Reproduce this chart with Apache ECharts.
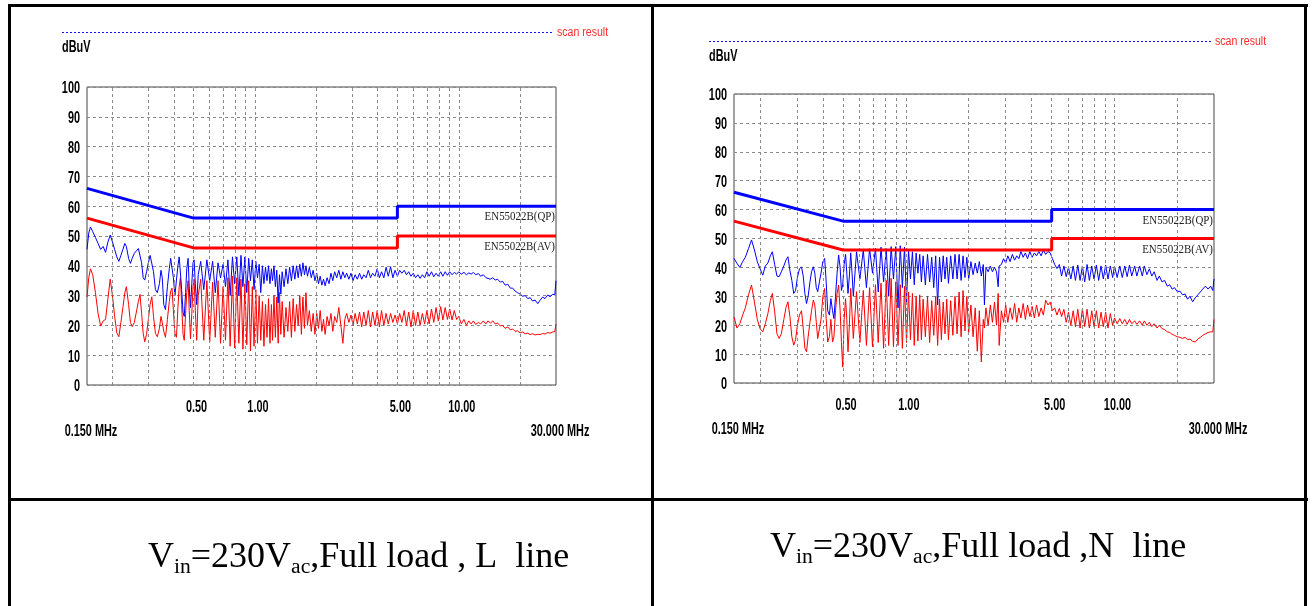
<!DOCTYPE html>
<html><head><meta charset="utf-8">
<script src="https://cdn.jsdelivr.net/npm/echarts@6.0.0/dist/echarts.min.js"></script>
<style>
html,body{margin:0;padding:0;background:#fff;width:1312px;height:606px;overflow:hidden}
#chart{position:absolute;left:0;top:0;width:1312px;height:606px}
.b{position:absolute;background:#000}
.cap{position:absolute;font-family:'Liberation Serif','Times New Roman',serif;font-size:36px;line-height:40px;color:#000;white-space:nowrap}
.cap sub{font-size:60%;vertical-align:-0.28em;line-height:0}
</style></head><body>
<div id="chart"></div>
<div class="b" style="left:8px;top:4px;width:1300px;height:3px"></div>
<div class="b" style="left:8px;top:4px;width:3px;height:602px"></div>
<div class="b" style="left:651px;top:4px;width:3px;height:602px"></div>
<div class="b" style="left:1304px;top:4px;width:3px;height:602px"></div>
<div class="b" style="left:8px;top:498px;width:1300px;height:3px"></div>
<div class="cap" style="left:148px;top:535px">V<sub>in</sub>=230V<sub>ac</sub>,Full load , L&nbsp; line</div>
<div class="cap" style="left:770px;top:525px">V<sub>in</sub>=230V<sub>ac</sub>,Full load ,N&nbsp; line</div>
<script>
// ---------------- data (frequency in MHz, level in dBuV) ----------------
const freqL = [
0.150,0.153,0.156,0.160,0.165,0.170,0.175,0.180,0.185,0.190,
0.195,0.200,0.205,0.210,0.215,0.220,0.225,0.230,0.234,0.240,
0.245,0.250,0.256,0.262,0.268,0.273,0.278,0.283,0.288,0.294,
0.300,0.306,0.312,0.318,0.325,0.332,0.340,0.346,0.351,0.357,
0.364,0.372,0.380,0.386,0.392,0.398,0.405,0.412,0.419,0.425,
0.431,0.437,0.444,0.450,0.457,0.463,0.470,0.476,0.483,0.490,
0.497,0.503,0.510,0.518,
0.527,0.542,0.561,0.581,0.600,0.620,0.639,0.659,0.678,0.698,
0.717,0.737,0.756,0.776,0.795,0.815,0.834,0.854,0.873,0.893,
0.912,0.932,0.951,0.971,0.990,1.010,1.029,1.049,1.068,1.088,
1.107,1.127,1.146,1.166,1.185,1.205,
1.22,1.24,1.26,1.28,1.30,1.32,1.34,1.36,1.39,1.42,
1.45,1.48,1.51,1.54,1.57,1.60,1.63,1.66,1.69,1.72,
1.75,1.78,1.81,1.85,1.89,1.93,1.97,2.01,2.05,2.09,
2.13,2.17,2.21,2.26,2.31,2.36,2.41,2.46,2.52,2.58,
2.64,2.70,2.76,2.82,2.89,2.96,3.03,3.10,3.18,3.26,
3.34,3.42,3.51,3.60,3.69,3.78,3.88,3.98,4.08,4.18,
4.29,4.40,4.51,4.63,4.75,4.87,5.00,5.13,5.26,5.40,
5.54,5.68,5.83,5.98,6.14,6.30,6.46,6.63,6.80,6.98,
7.16,7.35,7.54,7.74,7.94,8.15,8.36,8.58,8.80,9.03,
9.27,9.51,9.76,10.0,10.3,10.6,10.9,11.2,11.5,11.8,
12.1,12.5,12.8,13.2,13.6,13.9,14.3,14.7,15.1,15.5,
16.0,16.4,16.9,17.4,17.9,18.4,18.9,19.4,20.0,20.6,
21.2,21.8,22.4,23.0,23.7,24.4,25.1,25.8,26.5,27.3,
28.1,28.9,29.6,30.0];
const qpL = [
45.5,51,53,51.5,49.5,47.5,45.5,46.5,44.5,48,
50.3,48,45.5,43,41.5,43.5,45.5,47.5,46.5,42.5,
40.8,42.5,44.2,45,45.8,45.5,41,36,35.2,38,
41,43.5,43.7,38,32,31,34,38.5,36,27,
25.3,33,39,42.5,43,36,30,35.2,40,43,
43.6,32,24.4,23,31,39,42.5,33,26,34,
41,42,34,27,
37,41.5,32,42,35,41.5,31,41,36,40.5,
33,42,30,43,34,43,30,43.5,33,43,
31,42.5,35,42,32,41.5,36,40.5,31,40,
34,39.5,35,40,34,39,
35,40,33,38.5,27.5,37,30.5,38,33,39,
34,39.5,35,40,35.5,40,36,40.5,36.5,41,
37,40,36.5,39.5,36,38.5,35,37.5,34,36.5,
33.5,35.5,33.3,36,34,37.5,35,38,36,38.5,
35.5,38,36,37.5,35.5,37.5,35,37,35.5,37.5,
35.5,37,36,38.5,36,37.5,36.5,39,36,38,
36,39.5,36.5,39.7,36,38.5,36.5,38.5,37.5,38.5,
37,38,36.5,37.5,36,37,35.8,37,36,38,
36.5,38,36.3,37.5,36.5,38,36.5,38,36.8,38,
37,37.8,37.2,38,37.2,37.8,37,37.6,37.2,37.8,
37,37.4,36.5,37,36,36.5,35.5,36,35.2,35.5,
34.5,34.8,33.5,33.8,32.5,32.5,31.5,31,30.5,29.8,
30,29,29.3,28.2,28.5,27.3,28.5,29.5,29,30.2,
29.6,30.5,30.2,35];
const avL = [
29.5,36,39,37,31,24,19.8,21.5,22,29,
35.5,30,23,17.5,16.2,21,26,31,33,27,
21,19.6,21,24.5,28,30.4,24,17.3,14.5,17,
22,27,29.6,23,17.3,16.2,19,23,21,18,
16,22,28,31.5,32.5,25,17.3,16,26,33,
36,27,17,15,24,31,35,25,15.5,24,
33,35.5,25,15,
30,35.5,15,35,14.5,34.5,16,35,14,33,
15,36,13,36.5,12.5,36,14,35.5,12,34,
13.5,35,11.5,33,13,32,14,30,15,28,
13,27,16,29,14,27,
15,30,16,29.5,14,31,17,28,16,26,
18,28,16,29,18,27,20,30,17,29.5,
19,31,20,25,18,24,17,24,19,25,
18,22,17,23,20,24,18,23,21,26,
20,14,22,24,21,23.5,20,24,20.5,24.5,
19.5,24.5,20,25,19.5,24.5,20,25,19.5,25,
20,24,20.5,24,21,23.5,20.5,24,21,25,
20,24.5,19.5,25,20,24.5,20,24,20.5,25,
20.5,25.5,21,26,21.5,26.3,21.8,26,22,25.5,
21.8,25,22,23,20.5,22,20,21.5,20.5,21.5,
20.3,21,20.5,21.5,20.5,21.5,20.8,21.5,20.5,20.8,
19.8,20,19,19.5,18.5,18.8,18,18.2,17.5,17.8,
17.2,17.4,16.9,17.2,16.8,17,16.9,17.3,17.1,17.6,
17.4,17.8,17.9,20.5];

const freqN = [
0.150,0.155,0.160,0.165,0.170,0.176,0.182,0.188,0.194,0.200,
0.206,0.212,0.218,0.224,0.229,0.235,0.241,0.247,0.253,0.260,
0.266,0.272,0.278,0.284,0.290,0.296,0.302,0.309,0.316,0.322,
0.328,0.334,0.340,0.347,0.353,0.360,0.366,0.372,0.378,0.385,
0.392,0.400,0.408,0.415,0.422,0.430,0.437,0.445,0.452,0.460,
0.468,0.476,0.484,0.491,0.498,0.506,0.514,0.521,0.528,0.536,
0.544,0.552,0.560,
0.580,0.602,0.625,0.647,0.670,0.692,0.715,0.737,0.760,0.782,
0.805,0.827,0.850,0.872,0.895,0.917,0.940,0.962,0.985,1.007,
1.030,1.052,1.075,1.097,1.120,1.142,1.165,1.187,1.210,
1.24,1.27,1.30,1.33,1.36,1.39,1.42,1.45,1.48,1.51,
1.54,1.57,1.60,1.64,1.68,1.72,1.76,1.80,1.84,1.88,
1.92,1.96,2.00,2.05,2.10,2.15,2.20,2.25,2.30,2.35,
2.38,2.42,2.48,2.54,2.60,2.66,2.72,2.77,2.80,2.87,
2.94,3.01,3.08,3.16,3.24,3.32,3.40,3.48,3.56,3.65,
3.74,3.83,3.93,4.03,4.13,4.23,4.34,4.45,4.56,4.68,
4.80,4.92,5.04,5.17,5.30,5.44,5.58,5.72,5.87,6.02,
6.18,6.34,6.50,6.67,6.84,7.02,7.20,7.39,7.58,7.78,
7.98,8.19,8.40,8.62,8.84,9.07,9.31,9.55,9.80,10.0,
10.3,10.6,10.9,11.2,11.5,11.8,12.1,12.5,12.8,13.2,
13.6,13.9,14.3,14.7,15.1,15.5,16.0,16.4,16.9,17.4,
17.9,18.4,18.9,19.4,20.0,20.6,21.2,21.8,22.4,23.0,
23.7,24.4,25.1,25.8,26.5,27.3,28.1,28.9,29.6,30.0];
const qpN = [
43.1,41.4,40,42,43.5,46.5,49.5,46,42,39.5,
37.3,40.5,41.5,44,45.4,41,37,36.8,38.5,40.5,
42.5,43.7,39,35.5,31,32,36.5,39.5,40.2,37,
31,27.5,30,35,38.5,40.2,38,33,31.6,35,
38,42,43.1,35,25,23.5,29.2,25,22.3,30,
38,44.3,40,32,34,41,44.5,38,31,37,
45,38,30,
45.4,36,46,33,46.5,38,46.6,31.5,47,35,
46.5,30,47.2,36,47.2,26,47.5,33,47,28,
46,36,45.4,34,45,38,44.5,35,44,
34,44.5,35,43.5,33,44,27,43.5,35,44,
36,43.5,34.5,44,36,44.5,36,44.5,35.5,44,
36.5,43.5,36,42,37.5,41.5,38,42,37,41,
27,40,38.5,40.5,38.5,40,38.5,33.3,40.5,41,
43,41.5,44,42,44.5,42.5,44,43,45.5,43.5,
45,43,45.5,43.5,45,44,45.5,44,46,44.5,
45.5,45,43,41,39.6,41,37,40.5,36.8,40,
36,40.5,35.5,40.8,35.5,40.5,35,41,35.5,40.5,
36,40.8,35.5,40.5,36,40.8,36,40.5,36.5,40.5,
36.5,40.5,36.5,40.5,36.8,40.8,37,40.5,37,40.5,
37,40.5,37.5,39.5,37,38.5,35.5,37,35,35.5,
33.5,34,32.5,33,31.6,31.8,30.5,30.8,29,30,
28.1,29.5,30.5,31.5,32.5,33.5,32.5,33.5,32,36];
const avN = [
22.9,19,20.5,23.5,26,30.5,33.9,28,22,18.8,
17.7,20.5,24,28.5,31,24.6,17,15.4,17,22,
26,28.1,23,16,13.1,15,20,23.5,25,19,
12,10.8,16,21,25,28.7,27,21,15.4,16,
22,30,32.7,22.3,14.2,16,22,14.2,16,25,
31,33.9,25,14,5.5,22,29.2,22,10.8,20,
32.7,24,15.4,
31.6,14,32,13,33,12.5,34,14,34.5,12,
35.5,13,36.2,12.5,35,13,34,12,33.5,14,
31.5,15,31,13,30,14.5,30.5,15,29,
16,30,14,28.5,16.5,30,13,29,15,28,
17,29,15,28.5,16.5,30,17,31.5,16,32,
18,30,17.5,27,16,26,11,25,7.3,22,
19,26,20,27,21,28,20,31,13,25,
21,27,21,26,22,27.5,21,26,22.5,27.5,
22,27,23,26.5,22.5,27,23,26,23.5,28.7,
27,28,25,26,23.5,25.8,23,25.5,21,24.5,
20,25,19.5,25.5,19,25.8,19.5,25.5,19,25,
19.5,25,19,24.5,19.5,24.5,19,24,20,22.5,
20.5,22.3,20.5,22,20.3,22,20.5,21.5,20.3,21.5,
20,21.5,20,21,19.5,20.5,19,20,18.8,18.5,
17.7,17.5,16.8,16.5,16,15.8,15.4,15.8,15,15.2,
14.4,14.2,15.2,15.8,16.5,17,17.5,17.7,17.7,22];

const limitFreq = [0.15, 0.5, 5, 5, 30];
const limitQP = [66, 56, 56, 60, 60];
const limitAV = [56, 46, 46, 50, 50];
const gridFreq = [0.2,0.3,0.4,0.5,0.6,0.7,0.8,0.9,1,2,3,4,5,6,7,8,9,10,20];
const tickFreq = [0.5, 1, 5, 10];
const tickText = ['0.50', '1.00', '5.00', '10.00'];
const rangeFreq = [0.15, 30];
const rangeText = ['0.150 MHz', '30.000 MHz'];
const yTickVals = [0, 10, 20, 30, 40, 50, 60, 70, 80, 90, 100];
const limitNames = ['EN55022B(QP)', 'EN55022B(AV)'];
const unitText = 'dBuV';
const legendText = 'scan result';

// ---------------- build ----------------
function zip(xs, ys) {
  if (xs.length !== ys.length) throw new Error('length mismatch ' + xs.length + ' vs ' + ys.length);
  return xs.map((x, i) => [x, ys[i]]);
}
const SANS = '"Liberation Sans",Arial,sans-serif';
const BLUE = '#0000ff', RED = '#ff0000';
const panels = [
  {freq: freqL, qp: qpL, av: avL, grid: {left: 87, top: 87, width: 469, height: 298}, legY: 32.5, unitY: 48},
  {freq: freqN, qp: qpN, av: avN, grid: {left: 734, top: 94, width: 480, height: 289}, legY: 41.5, unitY: 57}
];
const grids = [], xAxes = [], yAxes = [], series = [];
panels.forEach((p, i) => {
  grids.push(Object.assign({show: true, borderColor: '#474747', borderWidth: 1, backgroundColor: '#fff'}, p.grid));
  xAxes.push({type: 'log', logBase: 10, min: 0.15, max: 30, gridIndex: i,
    axisLine: {show: false}, axisTick: {show: false}, axisLabel: {show: false}, splitLine: {show: false}});
  yAxes.push({type: 'value', min: 0, max: 100, interval: 10, gridIndex: i,
    axisLine: {show: false}, axisTick: {show: false}, axisLabel: {show: false},
    splitLine: {lineStyle: {type: [3, 3], color: '#8a8a8a', width: 1}}});
  series.push({type: 'line', xAxisIndex: i, yAxisIndex: i, data: [], z: 1, silent: true,
    markLine: {symbol: 'none', silent: true, animation: false, label: {show: false},
      lineStyle: {type: [3, 3], color: '#8a8a8a', width: 1},
      data: gridFreq.map(f => ({xAxis: f}))}});
  series.push({type: 'line', xAxisIndex: i, yAxisIndex: i, data: zip(p.freq, p.av), showSymbol: false, symbol: 'none',
    lineStyle: {color: RED, width: 1}, z: 3, animation: false});
  series.push({type: 'line', xAxisIndex: i, yAxisIndex: i, data: zip(p.freq, p.qp), showSymbol: false, symbol: 'none',
    lineStyle: {color: BLUE, width: 1}, z: 4, animation: false});
  series.push({type: 'line', xAxisIndex: i, yAxisIndex: i, data: zip(limitFreq, limitAV), showSymbol: false, symbol: 'none',
    lineStyle: {color: RED, width: 3}, z: 5, animation: false});
  series.push({type: 'line', xAxisIndex: i, yAxisIndex: i, data: zip(limitFreq, limitQP), showSymbol: false, symbol: 'none',
    lineStyle: {color: BLUE, width: 3}, z: 6, animation: false});
});

const chart = echarts.init(document.getElementById('chart'), null, {renderer: 'canvas'});
chart.setOption({animation: false, backgroundColor: 'transparent', grid: grids, xAxis: xAxes, yAxis: yAxes, series: series});

// text + decorations positioned from the axes' own scales
const g = [];
const boldF = 'bold 16px ' + SANS;
const SX = 0.68;
function txt(text, x, y, font, fill, align, sx) {
  g.push({type: 'text', silent: true, z: 10, x: x, y: y, scaleX: sx || 1,
    style: {text: text, x: 0, y: 0, font: font, fill: fill,
      align: align, textAlign: align, verticalAlign: 'middle', textVerticalAlign: 'middle'}});
}
panels.forEach((p, i) => {
  const gl = p.grid.left, gt = p.grid.top, gb = gt + p.grid.height, gr = gl + p.grid.width;
  // dotted legend line + "scan result"
  g.push({type: 'line', silent: true, z: 10, shape: {x1: gl - 25, y1: p.legY, x2: gr - 3, y2: p.legY},
    style: {stroke: '#1010ff', lineWidth: 1, lineDash: [2, 2]}});
  txt(legendText, gr + 1, p.legY, '12px ' + SANS, '#ff2a2a', 'left', 0.88);
  txt(unitText, gl - 25, p.unitY, boldF, '#000', 'left', SX);
  yTickVals.forEach(v => {
    const px = chart.convertToPixel({gridIndex: i}, [0.15, v]);
    txt(String(v), px[0] - 7, px[1] + 2, boldF, '#000', 'right', SX);
  });
  tickFreq.forEach((f, k) => {
    const px = chart.convertToPixel({gridIndex: i}, [f, 0]);
    txt(tickText[k], px[0] + 3, gb + 23, boldF, '#000', 'center', SX);
  });
  rangeFreq.forEach((f, k) => {
    const px = chart.convertToPixel({gridIndex: i}, [f, 0]);
    txt(rangeText[k], px[0] + 4, gb + 47, boldF, '#000', 'center', SX);
  });
  [limitQP, limitAV].forEach((lim, k) => {
    const px = chart.convertToPixel({gridIndex: i}, [limitFreq[limitFreq.length - 1], lim[lim.length - 1]]);
    txt(limitNames[k], px[0] - 1, px[1] + 11, '11.5px "Liberation Serif","DejaVu Serif",serif', '#222', 'right', 0.95);
  });
});
chart.setOption({graphic: g});
</script>
</body></html>
